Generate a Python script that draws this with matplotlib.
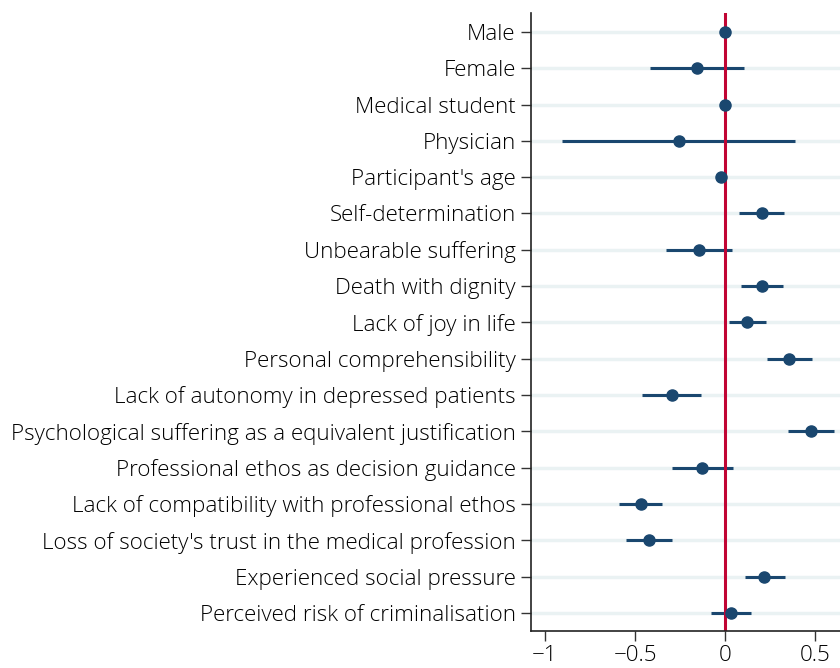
import numpy as np
import matplotlib
matplotlib.use("Agg")
import matplotlib.pyplot as plt

categories = [
    "Male", "Female", "Medical student", "Physician", "Participant's age",
    "Self-determination", "Unbearable suffering", "Death with dignity",
    "Lack of joy in life", "Personal comprehensibility",
    "Lack of autonomy in depressed patients",
    "Psychological suffering as a equivalent justification",
    "Professional ethos as decision guidance",
    "Lack of compatibility with professional ethos",
    "Loss of society's trust in the medical profession",
    "Experienced social pressure", "Perceived risk of criminalisation",
]
estimates = [0.0, -0.154, 0.0, -0.257, -0.024, 0.207, -0.143, 0.206, 0.124,
             0.357, -0.294, 0.480, -0.128, -0.467, -0.424, 0.219, 0.031]
ci_low = [np.nan, -0.417, np.nan, -0.907, -0.030, 0.080, -0.328, 0.089, 0.020,
          0.231, -0.461, 0.352, -0.296, -0.587, -0.550, 0.111, -0.076]
ci_high = [np.nan, 0.107, np.nan, 0.391, -0.018, 0.330, 0.041, 0.320, 0.230,
           0.481, -0.133, 0.606, 0.043, -0.350, -0.296, 0.332, 0.144]
xticks = [-1, -0.5, 0, 0.5]
xticklabels = ["\u22121", "\u22120.5", "0", "0.5"]

plt.rcParams['font.family'] = ['Open Sans', 'DejaVu Sans']
navy = "#1a476f"
red = "#c10534"

fig = plt.figure(figsize=(8.4, 6.68), dpi=100)
ax = fig.add_axes([531/840, 1 - 631/668, (840 - 531)/840, (631 - 13)/668])

y = np.arange(len(categories))
for yi in y:
    ax.axhline(yi, color="#eaf2f3", lw=2.5, zorder=0)

ax.hlines(y, ci_low, ci_high, color=navy, lw=2.2, zorder=2)
ax.plot(estimates, y, "o", color=navy, ms=8, zorder=3)
ax.axvline(0, color=red, lw=2.2, zorder=2.5)

ax.set_yticks(y)
ax.set_yticklabels(categories, fontsize=16.1, fontweight='light', color="#000000")
ax.set_xticks(xticks)
ax.set_xticklabels(xticklabels, fontsize=16.1, fontweight='light', color="#000000")
ax.set_xlim(-1.078, 0.639)
ax.set_ylim(16.5, -0.52)
ax.tick_params(axis='both', length=7, width=1, color="#333333")
ax.tick_params(axis='y', pad=4)
ax.tick_params(axis='x', pad=3)
for s in ["top", "right"]:
    ax.spines[s].set_visible(False)
for s in ["left", "bottom"]:
    ax.spines[s].set_linewidth(1.2)
    ax.spines[s].set_color("#222222")

fig.savefig("out.png", dpi=100)
